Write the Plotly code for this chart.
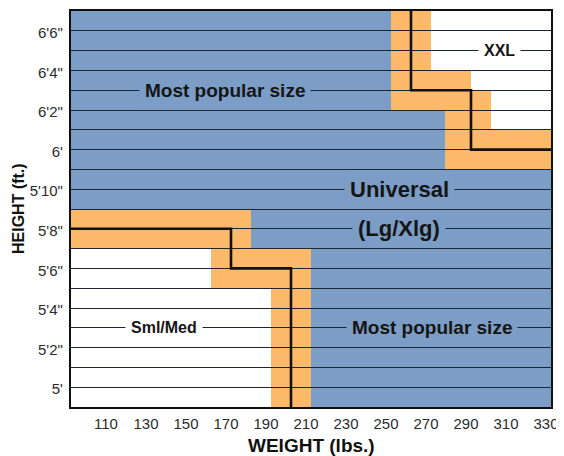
import plotly.graph_objects as go

# ---- data ----
weight_min, weight_max = 90, 330
height_min, height_max = 59, 79
weight_ticks = [110, 130, 150, 170, 190, 210, 230, 250, 270, 290, 310, 330]
height_tickvals = list(range(60, 79))
height_ticktext = ["5'", "", "5'2\"", "", "5'4\"", "", "5'6\"", "", "5'8\"", "",
                   "5'10\"", "", "6'", "", "6'2\"", "", "6'4\"", "", "6'6\""]

# rows (inch) of the Sml/Med corner: white up to, orange up to, then blue
sml_rows = [59, 60, 61, 62, 63, 64, 65, 66, 67, 68]
sml_white_end = [190, 190, 190, 190, 190, 190, 160, 160, 90, 90]
sml_orange_end = [210, 210, 210, 210, 210, 210, 210, 210, 180, 180]

# rows fully in universal size
uni_rows = [69, 70]

# rows of the XXL corner: blue up to, orange up to, then white
xxl_rows = [71, 72, 73, 74, 75, 76, 77, 78]
xxl_blue_end = [277, 277, 277, 250, 250, 250, 250, 250]
xxl_orange_end = [330, 330, 300, 300, 290, 270, 270, 270]

# boundary step lines
sml_line_w = [90, 170, 170, 200, 200]
sml_line_h = [68, 68, 66, 66, 59]
xxl_line_w = [260, 260, 290, 290, 330]
xxl_line_h = [79, 75, 75, 72, 72]

# labels: text, weight, height, background zone
label_text = ["Most popular size", "XXL", "Universal", "(Lg/Xlg)", "Sml/Med", "Most popular size"]
label_w = [167, 304, 254, 254, 136.5, 270.5]
label_h = [75, 77, 70, 68, 63, 63]
label_zone = ["blue", "white", "blue", "blue", "white", "blue"]
label_size = [19, 16, 22, 22, 16, 19]

# ---- style ----
BLUE = "#7b9dc6"
ORANGE = "#fdb96a"
WHITE = "#ffffff"
colors = {"blue": BLUE, "orange": ORANGE, "white": WHITE}
FONT = "Liberation Sans, Arial, sans-serif"

shapes = []


def rect(x0, x1, y0, y1, col):
    if x1 > x0:
        shapes.append(dict(type="rect", xref="x", yref="y", x0=x0, x1=x1, y0=y0, y1=y1,
                           fillcolor=col, line=dict(width=0), layer="below"))


for r, we, oe in zip(sml_rows, sml_white_end, sml_orange_end):
    rect(weight_min, we, r, r + 1, WHITE)
    rect(we, oe, r, r + 1, ORANGE)
    rect(oe, weight_max, r, r + 1, BLUE)
for r in uni_rows:
    rect(weight_min, weight_max, r, r + 1, BLUE)
for r, be, oe in zip(xxl_rows, xxl_blue_end, xxl_orange_end):
    rect(weight_min, be, r, r + 1, BLUE)
    rect(be, oe, r, r + 1, ORANGE)
    rect(oe, weight_max, r, r + 1, WHITE)

fig = go.Figure()
for xs, ys in [(sml_line_w, sml_line_h), (xxl_line_w, xxl_line_h)]:
    fig.add_trace(go.Scatter(x=xs, y=ys, mode="lines",
                             line=dict(color="#111111", width=2.6, shape="linear"),
                             hoverinfo="skip", showlegend=False, cliponaxis=False))

annotations = []
for t, w, h, z, s in zip(label_text, label_w, label_h, label_zone, label_size):
    annotations.append(dict(x=w, y=h, xref="x", yref="y", text="<b>" + t + "</b>",
                            showarrow=False, bgcolor=colors[z], borderpad=5,
                            font=dict(family=FONT, size=s, color="#151515")))

annotations.append(dict(x=0, y=0.5, xref="paper", yref="paper", xshift=-53,
                        text="<b>HEIGHT (ft.)</b>", textangle=-90, showarrow=False,
                        xanchor="center", yanchor="middle",
                        font=dict(family=FONT, size=16, color="#111111")))
annotations.append(dict(x=0.5, y=0, xref="paper", yref="paper", yshift=-38,
                        text="<b>WEIGHT (lbs.)</b>", showarrow=False,
                        xanchor="center", yanchor="middle",
                        font=dict(family=FONT, size=19, color="#111111")))

fig.update_layout(
    width=556, height=448,
    margin=dict(l=63, r=13, t=1, b=49),
    paper_bgcolor="white", plot_bgcolor="white",
    shapes=shapes, annotations=annotations,
    showlegend=False,
    xaxis=dict(range=[weight_min, weight_max], tickvals=weight_ticks,
               showgrid=False, zeroline=False,
               showline=True, mirror=True, linecolor="#111111", linewidth=2.2,
               ticks="outside", ticklen=2, tickcolor="rgba(0,0,0,0)",
               ticklabelshift=-5,
               tickfont=dict(family=FONT, size=15, color="#2b2b2b"), fixedrange=True),
    yaxis=dict(range=[height_min, height_max], tickvals=height_tickvals,
               ticktext=height_ticktext, showgrid=True, gridcolor="#1d2633", gridwidth=1.3,
               zeroline=False,
               showline=True, mirror=True, linecolor="#111111", linewidth=2.2,
               ticks="outside", ticklen=3, tickcolor="rgba(0,0,0,0)",
               ticklabelshift=2,
               tickfont=dict(family=FONT, size=15, color="#2b2b2b"), fixedrange=True),
)

fig.write_html("out.html")
